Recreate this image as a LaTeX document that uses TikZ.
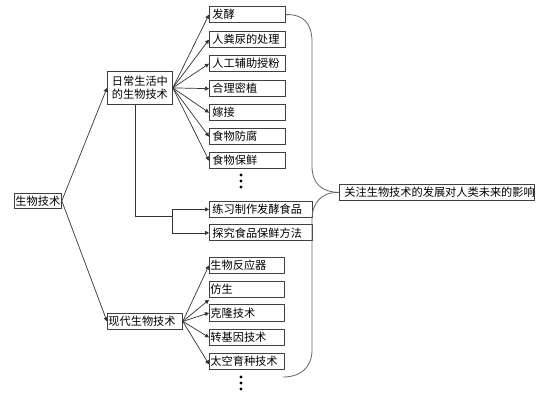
\documentclass[tikz,border=0pt]{standalone}
\usepackage{fontspec}
\setmainfont{Noto Sans CJK SC}
\usetikzlibrary{arrows.meta}
\begin{document}
\begin{tikzpicture}[x=1pt,y=-1pt,
  font=\fontsize{11.2pt}{13pt}\selectfont,
  box/.style={draw=black!75, line width=0.8pt, anchor=north west, minimum height=16.5pt, inner ysep=0pt, inner xsep=3pt, align=left},
  topbox/.style={box, text width=70pt},
  prbox/.style={box, text width=97pt, minimum height=16pt},
  modbox/.style={box, text width=73pt, inner xsep=1pt, minimum height=16pt},
  arr/.style={draw=black!80, line width=0.7pt, -{Triangle[length=4pt,width=4pt]}},
  ln/.style={draw=black!80, line width=0.7pt},
  brace/.style={draw=black!60, line width=0.8pt},
  dot/.style={circle, fill=black, inner sep=0pt, minimum size=3.2pt}]
\useasboundingbox (0,0) rectangle (538,403);
\fill[white] (0,0) rectangle (538,403);
% root
\node[box, text width=45pt, inner xsep=1pt, minimum height=15pt] (root) at (14,193) {生物技术};
% level 1
\node[box, text width=59pt, align=center, minimum height=33pt, inner ysep=1pt] (daily) at (107,71) {日常生活中\\的生物技术};
\node[modbox] (modern) at (107,313) {现代生物技术};
% top boxes
\node[topbox] (b1) at (209,6) {发酵};
\node[topbox] (b2) at (209,31) {人粪尿的处理};
\node[topbox] (b3) at (209,55) {人工辅助授粉};
\node[topbox] (b4) at (209,80) {合理密植};
\node[topbox] (b5) at (209,104) {嫁接};
\node[topbox] (b6) at (209,128) {食物防腐};
\node[topbox] (b7) at (209,152) {食物保鲜};
\node[dot] (d1) at (241,175) {};
\node[dot] (d2) at (241,181) {};
\node[dot] (d3) at (241,187) {};
% practice
\node[prbox] (p1) at (209,201) {练习制作发酵食品};
\node[prbox] (p2) at (209,224.5) {探究食品保鲜方法};
% modern boxes
\node[modbox] (m1) at (209,257) {生物反应器};
\node[modbox] (m2) at (209,281) {仿生};
\node[modbox] (m3) at (209,304.5) {克隆技术};
\node[modbox] (m4) at (209,329) {转基因技术};
\node[modbox] (m5) at (209,353) {太空育种技术};
\node[dot] (e1) at (241,377) {};
\node[dot] (e2) at (241,383) {};
\node[dot] (e3) at (241,389) {};
% final
\node[box, text width=185pt, inner xsep=5pt, minimum height=16pt] (fin) at (339,184) {关注生物技术的发展对人类未来的影响};
% connectors
\draw[arr] (root.east) -- (daily.west);
\draw[arr] (root.east) -- (modern.west);
\foreach \b in {b1,b2,b3,b4,b5,b6,b7} \draw[arr] (daily.east) -- (\b.west);
\foreach \m in {m1,m3,m4} \draw[arr] (modern.east) -- (\m.west);
\draw[arr] (modern.east) -- ([yshift=-2pt]m2.south west);
\draw[arr] (modern.east) -- ([yshift=-3pt]m5.west);
\coordinate (j) at (172,216);
\draw[ln] ([xshift=-4.5pt]daily.south) |- (j);
\draw[arr] (j) |- (p1.west);
\draw[arr] (j) |- (p2.west);
% brace
\coordinate (bend) at (283,377);
\draw[brace] (b1.east) .. controls (304,14) and (312,24) .. (312,42) -- (312,166)
  .. controls (312,184) and (322,192) .. (fin.west);
\draw[brace] (fin.west) .. controls (322,192) and (312,202) .. (312,220) -- (312,350)
  .. controls (312,368) and (300,377) .. (bend);
\end{tikzpicture}
\end{document}
